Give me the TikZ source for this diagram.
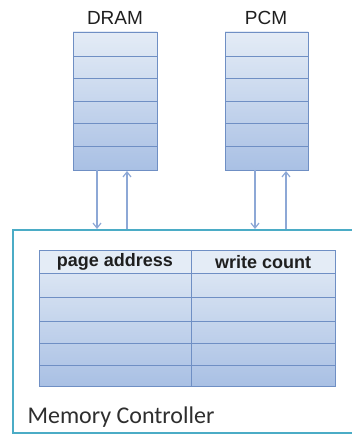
\documentclass[tikz,border=0pt]{standalone}
\usepackage{fontspec}
\setmainfont{Liberation Sans}
\newfontfamily\calfont{Carlito}
\usetikzlibrary{arrows.meta}
\definecolor{cellline}{HTML}{6F8FC4}
\definecolor{celltop}{HTML}{E4ECF6}
\definecolor{cellbot}{HTML}{A9C0E4}
\definecolor{wirecol}{HTML}{8DA8D6}
\definecolor{ctrlcol}{HTML}{4BACC6}
\tikzset{
  memcol/.style={draw=cellline, line width=0.9pt, top color=celltop, bottom color=cellbot},
  rowline/.style={draw=cellline, line width=0.9pt},
  wire/.style={draw=wirecol, line width=1.2pt, -{Straight Barb[length=5pt,width=8pt]}},
  title/.style={font=\fontsize{19}{19}\selectfont, text=black!88},
  header/.style={font=\bfseries\fontsize{18}{18}\selectfont, text=black!88},
}
\begin{document}
\begin{tikzpicture}[x=1pt,y=-1pt]
\useasboundingbox (0,0) rectangle (352,435);
\fill[white] (0,0) rectangle (352,435);

% memory controller frame (runs off the right edge)
\draw[ctrlcol, line width=2pt] (360,230) -- (13,230) -- (13,433) -- (360,433);
\node[anchor=base west, font=\calfont\fontsize{24}{24}\selectfont, text=black!82] (mclabel) at (24,423) {Memory Controller};

% DRAM column
\node[title] (dramlbl) at (115,18) {DRAM};
\path[memcol] (73,32) rectangle (157,170);
\foreach \yy in {56,78,101,123,146} \draw[rowline] (73,\yy) -- (157,\yy);
\draw[cellline, line width=0.9pt] (73,32) rectangle (157,170);

% PCM column
\node[title] (pcmlbl) at (266,18) {PCM};
\path[memcol] (225,32) rectangle (308,170);
\foreach \yy in {56,78,101,123,146} \draw[rowline] (225,\yy) -- (308,\yy);
\draw[cellline, line width=0.9pt] (225,32) rectangle (308,170);

% connection points
\coordinate (dramdownA) at (97,170);
\coordinate (dramdownB) at (97,229);
\coordinate (dramupA) at (127,229);
\coordinate (dramupB) at (127,171);
\coordinate (pcmdownA) at (255,170);
\coordinate (pcmdownB) at (255,229);
\coordinate (pcmupA) at (286,229);
\coordinate (pcmupB) at (286,171);
\draw[wire] (dramdownA) -- (dramdownB);
\draw[wire] (dramupA) -- (dramupB);
\draw[wire] (pcmdownA) -- (pcmdownB);
\draw[wire] (pcmupA) -- (pcmupB);

% write-count table
\path[memcol] (39,250) rectangle (335,386);
\fill[celltop] (39,250) rectangle (335,273);
\foreach \yy in {273,297,321,343,365} \draw[rowline] (39,\yy) -- (335,\yy);
\draw[rowline] (191,250) -- (191,386);
\draw[cellline, line width=0.9pt] (39,250) rectangle (335,386);
\node[header] (pagehdr) at (115,262) {page address};
\node[header] (cnthdr) at (263,262) {write count};
\end{tikzpicture}
\end{document}
